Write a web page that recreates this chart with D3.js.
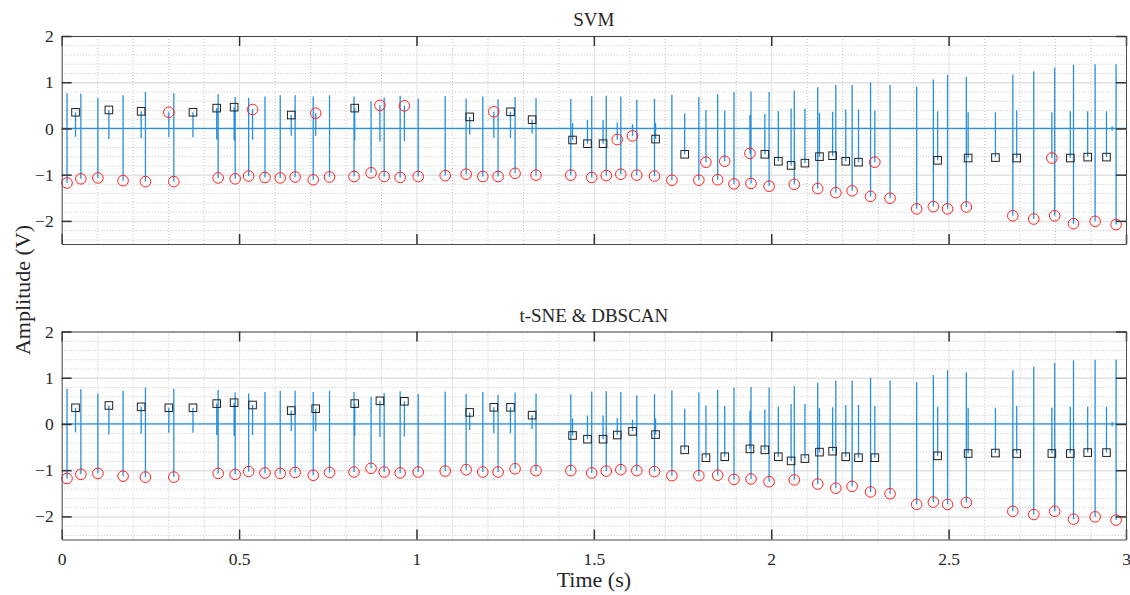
<!DOCTYPE html>
<html>
<head>
<meta charset="utf-8">
<script src="https://cdn.jsdelivr.net/npm/d3@7"></script>
<style>
  body { margin: 0; background: #fff; }
  text { font-family: "Liberation Serif", "DejaVu Serif", serif; fill: #262626; }
</style>
</head>
<body>
<svg id="chart" width="1130" height="595"></svg>
<script>
// spike time (s), positive peak, negative trough (V)
const spikeTime = [
  0.015, 0.039, 0.054, 0.102, 0.133, 0.173, 0.224, 0.236, 0.302, 0.316,
  0.370, 0.437, 0.441, 0.486, 0.489, 0.527, 0.538, 0.573, 0.616, 0.647,
  0.658, 0.709, 0.716, 0.755, 0.824, 0.826, 0.872, 0.897, 0.909, 0.954,
  0.966, 1.005, 1.081, 1.140, 1.150, 1.187, 1.218, 1.230, 1.265, 1.278,
  1.326, 1.337, 1.435, 1.440, 1.482, 1.494, 1.526, 1.535, 1.566, 1.576,
  1.609, 1.621, 1.671, 1.674, 1.720, 1.756, 1.796, 1.816, 1.849, 1.869,
  1.895, 1.940, 1.943, 1.982, 1.994, 2.020, 2.056, 2.065, 2.095, 2.131,
  2.136, 2.173, 2.182, 2.210, 2.228, 2.246, 2.280, 2.292, 2.335, 2.410,
  2.457, 2.469, 2.497, 2.550, 2.555, 2.632, 2.681, 2.692, 2.740, 2.791,
  2.799, 2.843, 2.852, 2.892, 2.913, 2.945, 2.961, 2.972
];
const spikeHigh = [
  0.76, 0.35, 0.75, 0.66, 0.40, 0.72, 0.37, 0.79, 0.35, 0.76,
  0.35, 0.44, 0.74, 0.46, 0.68, 0.66, 0.41, 0.69, 0.72, 0.29,
  0.72, 0.69, 0.33, 0.72, 0.69, 0.44, 0.59, 0.50, 0.67, 0.71,
  0.49, 0.65, 0.70, 0.65, 0.25, 0.69, 0.36, 0.63, 0.36, 0.68,
  0.19, 0.66, 0.64, 0.12, 0.18, 0.70, 0.18, 0.71, 0.13, 0.69,
  0.09, 0.62, 0.64, 0.12, 0.73, 0.33, 0.68, 0.40, 0.74, 0.39,
  0.79, 0.29, 0.80, 0.31, 0.79, 0.38, 0.43, 0.82, 0.43, 0.89,
  0.34, 0.36, 0.94, 0.41, 0.94, 0.41, 1.00, 0.39, 0.94, 0.91,
  1.06, 0.37, 1.16, 1.12, 0.35, 0.35, 1.16, 0.39, 1.24, 0.35,
  1.32, 0.37, 1.37, 0.37, 1.39, 0.37, 0.05, 1.39
];
const spikeLow = [
  -1.18, -0.18, -1.09, -1.07, -0.23, -1.13, -0.21, -1.15, -0.19, -1.15,
  -0.19, -0.24, -1.07, -0.26, -1.09, -1.03, -0.24, -1.06, -1.07, -0.16,
  -1.05, -1.11, -0.16, -1.05, -1.04, -0.26, -0.96, -0.28, -1.04, -1.06,
  -0.27, -1.04, -1.02, -0.99, -0.13, -1.04, -0.20, -1.04, -0.20, -0.97,
  -0.11, -1.01, -1.01, -0.25, -0.33, -1.06, -0.33, -1.02, -0.24, -0.99,
  -0.16, -1.01, -1.03, -0.23, -1.12, -0.56, -1.12, -0.73, -1.11, -0.71,
  -1.20, -0.54, -1.19, -0.56, -1.25, -0.71, -0.80, -1.21, -0.75, -1.30,
  -0.61, -0.59, -1.39, -0.71, -1.35, -0.73, -1.47, -0.73, -1.51, -1.74,
  -1.69, -0.69, -1.74, -1.70, -0.64, -0.63, -1.89, -0.64, -1.96, -0.64,
  -1.89, -0.64, -2.06, -0.62, -2.01, -0.62, -0.05, -2.08
];
// class of each detected spike: "c" = red circle, "s" = black square, "" = none
const svmLabel = [
  "c","s","c","c","s","c","s","c","c","c",
  "s","s","c","s","c","c","c","c","c","s",
  "c","c","c","c","c","s","c","c","c","c",
  "c","c","c","c","s","c","c","c","s","c",
  "s","c","c","s","s","c","s","c","c","c",
  "c","c","c","s","c","s","c","c","c","c",
  "c","c","c","s","c","s","s","c","s","c",
  "s","s","c","s","c","s","c","c","c","c",
  "c","s","c","c","s","s","c","s","c","c",
  "c","s","c","s","c","s","","c"
];
const tsneLabel = [
  "c","s","c","c","s","c","s","c","s","c",
  "s","s","c","s","c","c","s","c","c","s",
  "c","c","s","c","c","s","c","s","c","c",
  "s","c","c","c","s","c","s","c","s","c",
  "s","c","c","s","s","c","s","c","s","c",
  "s","c","c","s","c","s","c","s","c","s",
  "c","s","c","s","c","s","s","c","s","c",
  "s","s","c","s","c","s","c","s","c","c",
  "c","s","c","c","s","s","c","s","c","s",
  "c","s","c","s","c","s","","c"
];
const panelTitles = ["SVM", "t-SNE & DBSCAN"];
const xTickValues = [0, 0.5, 1, 1.5, 2, 2.5, 3];
const yTickValues = [-2, -1, 0, 1, 2];

const spikes = spikeTime.map((t, i) => ({
  t, hi: spikeHigh[i], lo: spikeLow[i],
  peak: Math.abs(spikeHigh[i]) > Math.abs(spikeLow[i]) ? spikeHigh[i] : spikeLow[i],
}));

const svg = d3.select("#chart");
const left = 61.7, right = 1126;
const panelTops = [36, 331.5];
const panelH = 208;

const x = d3.scaleLinear().domain([0, 3]).range([left, right]);
const xMinor = d3.range(0.1, 3, 0.1).filter(v => Math.abs(v * 2 - Math.round(v * 2)) > 1e-6);
const yMinor = d3.range(-2.4, 2, 0.2).filter(v => Math.abs(v - Math.round(v)) > 1e-6);

const signalPoints = [[0, 0]];
spikes.forEach(d => {
  signalPoints.push([d.t, 0], [d.t, d.hi], [d.t, d.lo], [d.t, 0]);
});
signalPoints.push([3, 0]);

[svmLabel, tsneLabel].forEach((labels, p) => {
  const top = panelTops[p];
  const y = d3.scaleLinear().domain([-2.5, 2]).range([top + panelH, top]);
  const g = svg.append("g");
  const w = right - left;

  // minor grid (dotted)
  g.append("g")
    .attr("transform", `translate(0,${top + panelH})`)
    .call(d3.axisBottom(x).tickValues(xMinor).tickSize(-panelH).tickFormat(""))
    .call(a => a.select(".domain").remove())
    .call(a => a.selectAll("line").attr("stroke", "#c4c4c4").attr("stroke-dasharray", "1,2"));
  g.append("g")
    .attr("transform", `translate(${left},0)`)
    .call(d3.axisLeft(y).tickValues(yMinor).tickSize(-w).tickFormat(""))
    .call(a => a.select(".domain").remove())
    .call(a => a.selectAll("line").attr("stroke", "#c4c4c4").attr("stroke-dasharray", "1,2"));

  // major grid
  g.append("g")
    .attr("transform", `translate(0,${top + panelH})`)
    .call(d3.axisBottom(x).tickValues(xTickValues).tickSize(-panelH).tickFormat(""))
    .call(a => a.select(".domain").remove())
    .call(a => a.selectAll("line").attr("stroke", "#e2e2e2"));
  g.append("g")
    .attr("transform", `translate(${left},0)`)
    .call(d3.axisLeft(y).tickValues(yTickValues).tickSize(-w).tickFormat(""))
    .call(a => a.select(".domain").remove())
    .call(a => a.selectAll("line").attr("stroke", "#e2e2e2").attr("stroke-width", 1.5));

  // signal
  g.append("path")
    .datum(signalPoints)
    .attr("fill", "none")
    .attr("stroke", "#2a90dc")
    .attr("stroke-width", 1.3)
    .attr("d", d3.line().x(d => x(d[0])).y(d => y(d[1])));

  // markers
  const marks = spikes.map((d, i) => ({ ...d, cls: labels[i] }));
  g.append("g").selectAll("rect")
    .data(marks.filter(d => d.cls === "s"))
    .join("rect")
    .attr("x", d => x(d.t) - 3.8)
    .attr("y", d => y(d.peak) - 3.8)
    .attr("width", 7.6).attr("height", 7.6)
    .attr("fill", "none").attr("stroke", "#222").attr("stroke-width", 1);
  g.append("g").selectAll("circle")
    .data(marks.filter(d => d.cls === "c"))
    .join("circle")
    .attr("cx", d => x(d.t))
    .attr("cy", d => y(d.peak))
    .attr("r", 5.3)
    .attr("fill", "none").attr("stroke", "#ff2020").attr("stroke-width", 1);

  // box + inward ticks
  const tickLen = 10;
  g.append("g")
    .attr("transform", `translate(0,${top + panelH})`)
    .call(d3.axisBottom(x).tickValues(xTickValues).tickSizeInner(-tickLen).tickSizeOuter(0)
      .tickPadding(13).tickFormat(p === 1 ? d3.format("") : ""));
  g.append("g")
    .attr("transform", `translate(0,${top})`)
    .call(d3.axisTop(x).tickValues(xTickValues).tickSizeInner(-tickLen).tickSizeOuter(0).tickFormat(""));
  g.append("g")
    .attr("transform", `translate(${left},0)`)
    .call(d3.axisLeft(y).tickValues(yTickValues).tickSizeInner(-tickLen).tickSizeOuter(0)
      .tickPadding(8).tickFormat(d3.format("")));
  g.append("g")
    .attr("transform", `translate(${right},0)`)
    .call(d3.axisRight(y).tickValues(yTickValues).tickSizeInner(-tickLen).tickSizeOuter(0).tickFormat(""));

  g.selectAll(".domain").attr("stroke", "#4a4a4a").attr("stroke-width", 1);
  g.selectAll(".tick line").filter(function () { return this.getAttribute("y2") == -tickLen || this.getAttribute("y2") == tickLen || this.getAttribute("x2") == -tickLen || this.getAttribute("x2") == tickLen; })
    .attr("stroke", "#333").attr("stroke-width", 1.5);
  g.selectAll(".tick text")
    .attr("font-size", 17.5)
    .attr("fill", "#262626");

  svg.append("text")
    .attr("x", (left + right) / 2)
    .attr("y", top - 10)
    .attr("text-anchor", "middle")
    .attr("font-size", 19)
    .text(panelTitles[p]);
});

svg.append("text")
  .attr("x", (left + right) / 2)
  .attr("y", 587)
  .attr("text-anchor", "middle")
  .attr("font-size", 22)
  .text("Time (s)");

svg.append("text")
  .attr("transform", `translate(30,290) rotate(-90)`)
  .attr("text-anchor", "middle")
  .attr("font-size", 22)
  .text("Amplitude (V)");
</script>
</body>
</html>
